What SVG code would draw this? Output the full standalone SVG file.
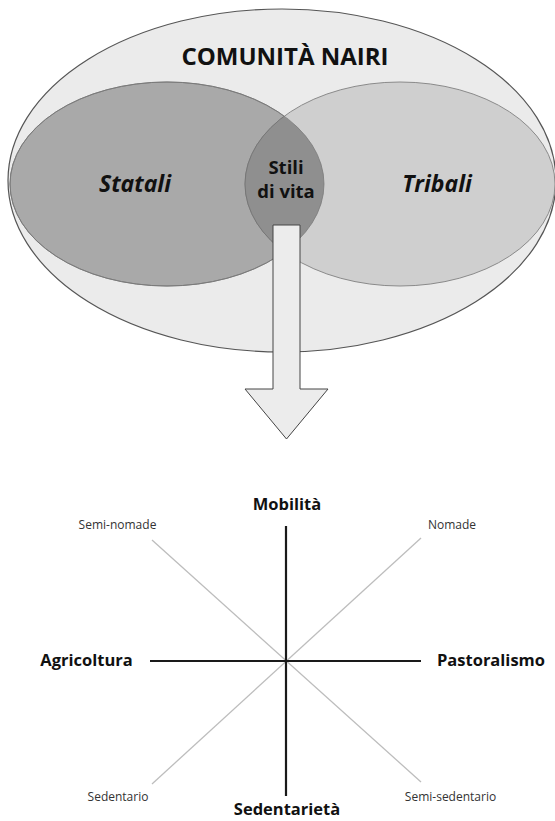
<svg xmlns="http://www.w3.org/2000/svg" width="555" height="821" viewBox="0 0 555 821">
<style>
.bold{font-family:"Open Sans","Liberation Sans",sans-serif;font-weight:700;fill:#111;text-anchor:middle}
.bi{font-family:"Open Sans","Liberation Sans",sans-serif;font-weight:700;font-style:italic;fill:#111;text-anchor:middle}
.small{font-family:"Open Sans","Liberation Sans",sans-serif;font-size:12px;fill:#333;text-anchor:middle}
.axis{stroke:#1a1a1a;stroke-width:2.2;fill:none}
.diag{stroke:#bdbdbd;stroke-width:1.3;fill:none}
</style>
<defs>
<clipPath id="clipLeft"><ellipse cx="167" cy="184" rx="157" ry="102"/></clipPath>
</defs>
<rect width="555" height="821" fill="#ffffff"/>
<g id="comunita">
<ellipse cx="282" cy="180.5" rx="274" ry="171.5" fill="#ebebeb" stroke="#555" stroke-width="1.2"/>
<text class="bold" x="285" y="65" font-size="24">COMUNITÀ NAIRI</text>
</g>
<g id="statali">
<ellipse cx="167" cy="184" rx="157" ry="102" fill="#a9a9a9" stroke="#7a7a7a" stroke-width="1"/>
<text class="bi" x="135" y="192" font-size="23">Statali</text>
</g>
<g id="tribali">
<ellipse cx="400" cy="184" rx="155" ry="102" fill="#cfcfcf" stroke="#8a8a8a" stroke-width="1"/>
<text class="bi" x="437" y="192" font-size="23">Tribali</text>
</g>
<g id="stili">
<ellipse cx="400" cy="184" rx="155" ry="102" fill="#8f8f8f" stroke="#777" stroke-width="1" clip-path="url(#clipLeft)"/>
<ellipse cx="167" cy="184" rx="157" ry="102" fill="none" stroke="#7a7a7a" stroke-width="0.8"/>
<text class="bold" x="286" y="174" font-size="18.5">Stili</text>
<text class="bold" x="286" y="198" font-size="18.5">di vita</text>
</g>
<g id="connectors">
<polygon points="273,225 300,225 300,389 328,389 286.5,439 245,389 273,389" fill="#ececec" stroke="#444" stroke-width="1"/>
</g>
<g id="assi">
<line class="diag" x1="152" y1="540" x2="421" y2="782"/>
<line class="diag" x1="421" y1="538" x2="152" y2="784"/>
<line class="axis" x1="286" y1="526" x2="286" y2="796"/>
<line class="axis" x1="150" y1="661" x2="421" y2="661"/>
</g>
<g id="mobilita"><text class="bold" x="287" y="510" font-size="16.5">Mobilità</text></g>
<g id="sedentarieta"><text class="bold" x="287" y="815" font-size="16.5">Sedentarietà</text></g>
<g id="agricoltura"><text class="bold" x="86.5" y="666" font-size="16.5">Agricoltura</text></g>
<g id="pastoralismo"><text class="bold" x="491" y="666" font-size="16.5">Pastoralismo</text></g>
<g id="semi-nomade"><text class="small" x="117.5" y="529">Semi-nomade</text></g>
<g id="nomade"><text class="small" x="452" y="529">Nomade</text></g>
<g id="sedentario"><text class="small" x="118" y="801">Sedentario</text></g>
<g id="semi-sedentario"><text class="small" x="450.5" y="801">Semi-sedentario</text></g>
</svg>
